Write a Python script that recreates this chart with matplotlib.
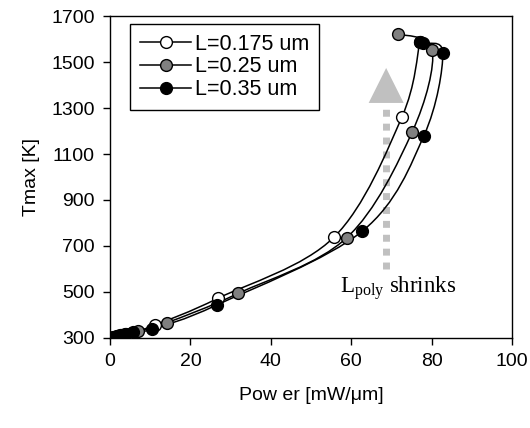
import numpy as np
import matplotlib
matplotlib.use("Agg")
import matplotlib.pyplot as plt
from matplotlib.path import Path
from matplotlib.patches import PathPatch
from matplotlib.lines import Line2D

plt.rcParams['font.family'] = ['Liberation Sans', 'DejaVu Sans']
plt.rcParams['mathtext.fontset'] = 'custom'
plt.rcParams['mathtext.rm'] = 'Liberation Serif'

# data
labels = ["L=0.175 um", "L=0.25 um", "L=0.35 um"]
face_colors = ["white", "#808080", "black"]

p_0175 = [0, 0.2, 0.5, 1.0, 1.7, 2.6, 3.8, 5.4, 11.2, 26.9, 55.7, 72.6, 77.1]
t_0175 = [300, 301, 302, 304, 307, 311, 316, 323, 356, 473, 738, 1260, 1589]

p_025 = [0, 0.3, 0.7, 1.3, 2.1, 3.2, 4.8, 7.0, 14.1, 31.9, 58.9, 75.2, 80.2, 71.6]
t_025 = [300, 301, 303, 305, 308, 312, 319, 330, 366, 494, 736, 1197, 1552, 1622]

p_035 = [0, 0.3, 0.6, 1.1, 1.8, 2.8, 4.1, 5.8, 10.4, 26.5, 62.8, 78.1, 82.8, 77.9, 77.1]
t_035 = [300, 301, 302, 304, 307, 311, 318, 327, 338, 443, 765, 1180, 1538, 1581, 1589]

series = [(p_0175, t_0175), (p_025, t_025), (p_035, t_035)]

# arrow annotation
arrow_x, arrow_y0, arrow_base, arrow_tip = 68.7, 600, 1322, 1474


def smooth_path(x, y):
    # Excel-style smoothed line (Catmull-Rom as cubic Bezier)
    pts = np.column_stack([x, y]).astype(float)
    n = len(pts)
    verts = [pts[0]]
    codes = [Path.MOVETO]
    for i in range(n - 1):
        p0 = pts[i - 1] if i > 0 else pts[i]
        p1 = pts[i]
        p2 = pts[i + 1]
        p3 = pts[i + 2] if i + 2 < n else pts[i + 1]
        c1 = p1 + (p2 - p0) / 6.0
        c2 = p2 - (p3 - p1) / 6.0
        verts += [c1, c2, p2]
        codes += [Path.CURVE4] * 3
    return Path(verts, codes)


fig = plt.figure(figsize=(5.3, 4.28), dpi=100)
ax = fig.add_axes([0.2075, 0.2103, 0.7585, 0.7523])

handles = []
for (x, y), fc, lab in zip(series, face_colors, labels):
    ax.add_patch(PathPatch(smooth_path(x, y), facecolor="none",
                           edgecolor="black", lw=1.1, zorder=2))
for (x, y), fc, lab in zip(series, face_colors, labels):
    ax.plot(x, y, linestyle="none", marker="o", ms=8.5, mfc=fc,
            mec="black", mew=1.0, zorder=3)
    handles.append(Line2D([], [], color="black", lw=1.1, marker="o", ms=8.5,
                          mfc=fc, mec="black", mew=1.0, label=lab))

ax.plot([arrow_x, arrow_x], [arrow_y0, arrow_base], color="#c0c0c0", lw=5,
        linestyle=(0, (1, 1)), solid_capstyle="butt", dash_capstyle="butt", zorder=1)
ax.arrow(arrow_x, arrow_base, 0, arrow_tip - arrow_base, width=0.01,
         head_width=8.7, head_length=arrow_tip - arrow_base,
         length_includes_head=True, color="#c0c0c0", lw=0, zorder=1)

ax.text(57.2, 515, r"L$_{\rm poly}$ shrinks", family="Liberation Serif",
        fontsize=16.5, va="center", ha="left")

ax.set_xlim(0, 100)
ax.set_ylim(300, 1700)
ax.set_xticks(np.arange(0, 101, 20))
ax.set_yticks(np.arange(300, 1701, 200))
ax.tick_params(direction="out", length=5, width=1, labelsize=14, pad=6)
for s in ax.spines.values():
    s.set_linewidth(1)
ax.set_xlabel("Pow er [mW/\u03bcm]", fontsize=14, labelpad=12)
ax.set_ylabel("Tmax [K]", fontsize=14, labelpad=8)

leg = ax.legend(handles=handles, loc="upper left", bbox_to_anchor=(0.05, 0.975),
                borderaxespad=0, fontsize=15.5, handlelength=2.4, labelspacing=0.08,
                handletextpad=0.15, borderpad=0.45, fancybox=False, framealpha=1)
leg.get_frame().set_edgecolor("black")
leg.get_frame().set_linewidth(1)

fig.savefig("out.png", dpi=100)
